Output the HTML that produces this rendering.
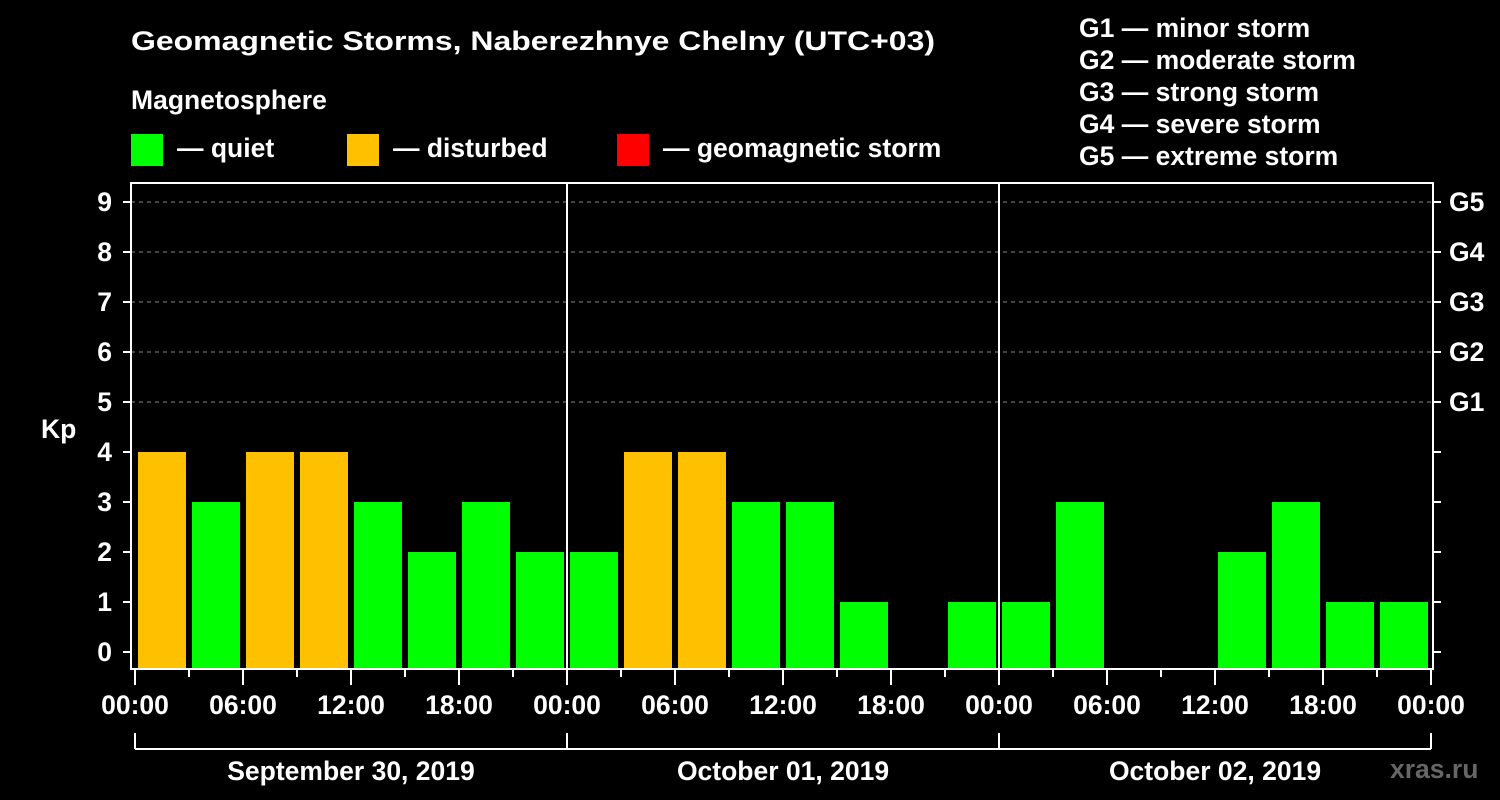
<!DOCTYPE html>
<html><head><meta charset="utf-8"><style>
body{margin:0;background:#000}
svg{display:block;font-family:"Liberation Sans",Arial,sans-serif;font-weight:bold}
</style></head><body>
<svg width="1500" height="800" viewBox="0 0 1500 800">
<rect width="1500" height="800" fill="#000"/>
<g fill="#fff" font-size="26.5">
<text x="131" y="50" textLength="804" lengthAdjust="spacingAndGlyphs">Geomagnetic Storms, Naberezhnye Chelny (UTC+03)</text>
<text x="131" y="109">Magnetosphere</text>
<rect x="131" y="134" width="32" height="32" fill="#00ff00"/>
<text x="177" y="157">— quiet</text>
<rect x="347" y="134" width="32" height="32" fill="#ffc000"/>
<text x="393" y="157">— disturbed</text>
<rect x="617" y="134" width="32" height="32" fill="#ff0000"/>
<text x="663" y="157">— geomagnetic storm</text>
<text x="1079" y="37">G1 — minor storm</text>
<text x="1079" y="69">G2 — moderate storm</text>
<text x="1079" y="101">G3 — strong storm</text>
<text x="1079" y="133">G4 — severe storm</text>
<text x="1079" y="165">G5 — extreme storm</text>
<text x="41" y="438">Kp</text>
<text x="1390" y="778" fill="#666">xras.ru</text>
</g>
<g id="plot"></g>
</svg>
<script>
const kpValues=[4,3,4,4,3,2,3,2, 2,4,4,3,3,1,0,1, 1,3,0,0,2,3,1,1];
const dayLabels=["September 30, 2019","October 01, 2019","October 02, 2019"];
const hourLabels=["00:00","06:00","12:00","18:00"];
const gLabels=["G1","G2","G3","G4","G5"];
const NS="http://www.w3.org/2000/svg";
const plotG=document.getElementById("plot");
const x0=135,slotW=54,pLeft=131,pRight=1433,pTop=183,pBottom=669;
const yS=v=>652-v*50;
const sx=i=>x0+i*slotW;
function mk(t,a){const e=document.createElementNS(NS,t);for(const k in a)e.setAttribute(k,a[k]);plotG.appendChild(e);return e;}
for(let k=5;k<=9;k++){const l=mk("line",{x1:pLeft,x2:pRight,y1:yS(k),y2:yS(k),stroke:"#888","stroke-dasharray":"4,4","stroke-width":1});

}
kpValues.forEach((v,i)=>{if(v<=0)return;
const r=mk("rect",{x:sx(i)+3,y:yS(v),width:48,height:pBottom-yS(v),fill:v>=5?"#ff0000":(v>=4?"#ffc000":"#00ff00")});

});
for(let d=1;d<dayLabels.length;d++){const l=mk("line",{x1:sx(d*8),x2:sx(d*8),y1:pTop,y2:pBottom,stroke:"#fff","stroke-width":2});

}
const fr=mk("rect",{x:pLeft,y:pTop,width:pRight-pLeft,height:pBottom-pTop,fill:"none",stroke:"#fff","stroke-width":2});


for(let k=0;k<=9;k++){
mk("line",{x1:123,x2:pLeft,y1:yS(k),y2:yS(k),stroke:"#fff","stroke-width":2});
mk("line",{x1:pRight,x2:1441,y1:yS(k),y2:yS(k),stroke:"#fff","stroke-width":2});
const t=mk("text",{x:112,y:yS(k)+9,fill:"#fff","font-size":26.5,"text-anchor":"end"});t.textContent=k;

}
gLabels.forEach((s,i)=>{const t=mk("text",{x:1449,y:yS(i+5)+9,fill:"#fff","font-size":26.5});t.textContent=s;

});
const nSlots=kpValues.length;
for(let i=0;i<=nSlots;i++){const major=i%2===0;
mk("line",{x1:sx(i),x2:sx(i),y1:pBottom,y2:major?685:677,stroke:"#fff","stroke-width":2});
if(major){const t=mk("text",{x:sx(i),y:714,fill:"#fff","font-size":26.5,"text-anchor":"middle"});t.textContent=hourLabels[(i/2)%4];

}}
mk("line",{x1:sx(0),x2:sx(nSlots),y1:749,y2:749,stroke:"#fff","stroke-width":2});
for(let d=0;d<=dayLabels.length;d++)mk("line",{x1:sx(d*8),x2:sx(d*8),y1:733,y2:749,stroke:"#fff","stroke-width":2});
dayLabels.forEach((s,d)=>{const t=mk("text",{x:sx(d*8+4),y:780,fill:"#fff","font-size":26.5,"text-anchor":"middle"});t.textContent=s;

});
</script>
</body></html>
